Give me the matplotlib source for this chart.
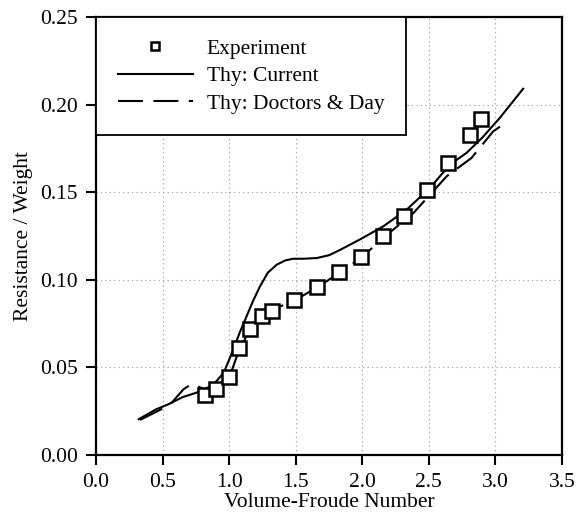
"""Resistance/weight vs volume-Froude number: experiment vs two theories."""
import numpy as np
import matplotlib
matplotlib.use("Agg")
import matplotlib.pyplot as plt

plt.rcParams.update({"font.family": "Liberation Serif", "font.size": 15.5})

# experiment (squares)
exp_fn = [0.82, 0.90, 1.00, 1.075, 1.158, 1.245, 1.325, 1.49, 1.658, 1.825,
          1.99, 2.153, 2.315, 2.483, 2.645, 2.808, 2.895]
exp_rw = [0.0343, 0.0375, 0.0444, 0.0608, 0.0720, 0.0796, 0.0823, 0.0886, 0.0956,
          0.1042, 0.1130, 0.1251, 0.1366, 0.1514, 0.1667, 0.1825, 0.1920]

# Thy: Current (solid)
cur_fn = [0.32, 0.45, 0.545, 0.65, 0.78, 0.88, 0.96, 1.03, 1.08, 1.13, 1.18, 1.23,
          1.29, 1.357, 1.42, 1.48, 1.56, 1.658, 1.75, 1.832, 1.98, 2.158, 2.333,
          2.508, 2.658, 2.783, 2.90, 3.033, 3.208]
cur_rw = [0.0204, 0.026, 0.029, 0.033, 0.0362, 0.040, 0.047, 0.060, 0.070, 0.079,
          0.088, 0.096, 0.104, 0.1086, 0.111, 0.112, 0.112, 0.1124, 0.114, 0.117,
          0.1229, 0.1305, 0.140, 0.1524, 0.1657, 0.1724, 0.1810, 0.1924, 0.209]

# Thy: Doctors & Day (dashed)
dd_fn = [0.33, 0.48, 0.57, 0.657, 0.72, 0.83, 0.90, 1.00, 1.075, 1.16, 1.25, 1.33,
         1.50, 1.66, 1.83, 2.00, 2.15, 2.383, 2.633, 2.82, 2.983, 3.046]
dd_rw = [0.020, 0.0257, 0.030, 0.0375, 0.0406, 0.037, 0.037, 0.044, 0.060, 0.072,
         0.0796, 0.083, 0.0886, 0.0956, 0.104, 0.113, 0.1235, 0.138, 0.159, 0.1695,
         0.1847, 0.188]

fig = plt.figure(figsize=(5.83, 5.29), dpi=100)
ax = fig.add_axes([0.1647, 0.1399, 0.7993, 0.8281])

ax.plot(exp_fn, exp_rw, "s", ms=9.5, mfc="white", mec="black", mew=1.8,
        ls="none", label="Experiment", zorder=5)
ax.plot(cur_fn, cur_rw, "-", color="black", lw=1.5, label="Thy: Current", zorder=4)
ax.plot(dd_fn, dd_rw, "--", color="black", lw=1.5, dashes=(12, 5),
        label="Thy: Doctors & Day", zorder=3)

ax.set_xlim(0, 3.5)
ax.set_ylim(0, 0.25)
ax.set_xticks(np.arange(0, 3.51, 0.5))
ax.set_yticks(np.arange(0, 0.251, 0.05))
ax.set_xticklabels([f"{v:.1f}" for v in np.arange(0, 3.51, 0.5)])
ax.set_yticklabels([f"{v:.2f}" for v in np.arange(0, 0.251, 0.05)])
ax.tick_params(direction="out", length=7, width=1.5, pad=6)
ax.grid(True, ls=(0, (1, 3)), color="0.6", lw=0.8)
for sp in ax.spines.values():
    sp.set_linewidth(1.6)

ax.set_xlabel("Volume-Froude Number", labelpad=1)
ax.set_ylabel("Resistance / Weight", labelpad=5)

leg = ax.legend(loc="upper left", bbox_to_anchor=(0, 1), borderaxespad=0,
                fancybox=False, framealpha=1, edgecolor="black",
                handlelength=3.5, handletextpad=0.65, borderpad=1.0,
                labelspacing=0.35, markerscale=0.6)
leg.get_frame().set_linewidth(1.3)
leg.set_zorder(10)

fig.savefig("out.png", dpi=100)
